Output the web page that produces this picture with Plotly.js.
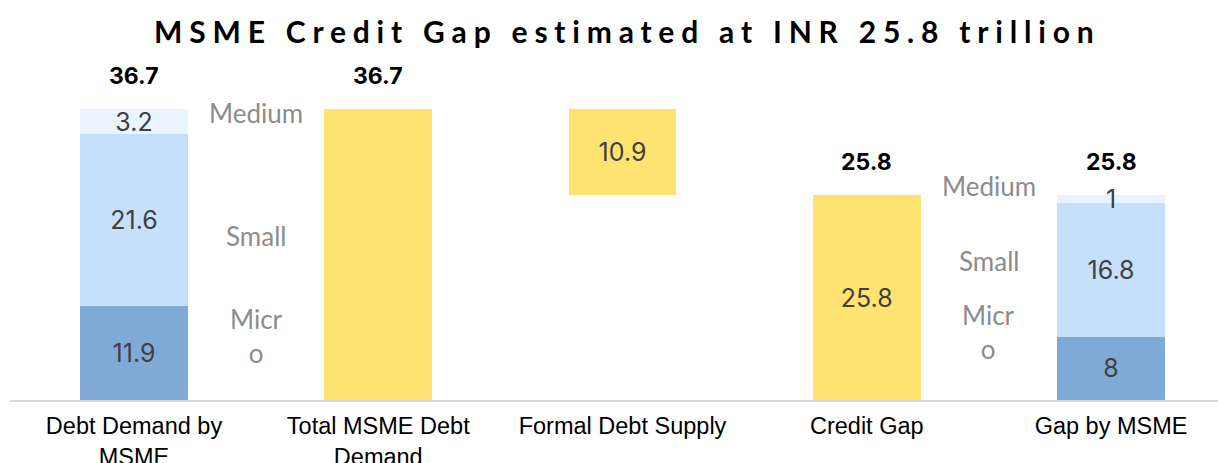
<!DOCTYPE html>
<html>
<head>
<meta charset="utf-8">
<script src="https://cdn.plot.ly/plotly-3.0.1.min.js"></script>
<style>
html,body{margin:0;padding:0;background:#fff;}
#chart{width:1218px;height:463px;}
.gtitle{letter-spacing:6.8px;}
</style>
</head>
<body>
<div id="chart"></div>
<script>
var categories = ['Debt Demand by<br>MSME', 'Total MSME Debt<br>Demand', 'Formal Debt Supply', 'Credit Gap', 'Gap by MSME'];
var microVals  = [11.9, null, null, null, 8];
var smallVals  = [21.6, null, null, null, 16.8];
var mediumVals = [3.2, null, null, null, 1];
var spacerVals = [null, null, 25.8, null, null];
var yellowVals = [null, 36.7, 10.9, 25.8, null];
var yellowText = ['', '', '10.9', '25.8', ''];
var totalVals  = [36.7, 36.7, null, 25.8, 25.8];
var segmentNames = ['Medium', 'Small', 'Micr<br>o'];
var segLabelX = [0.5, 3.5];
var segLabelY = [[36.2, 20.7, 8.1], [27.0, 17.5, 8.6]];

var valueFont = {family: 'Inter, "Open Sans", sans-serif', size: 25, color: '#404040'};
var barW = 0.442;

function segTrace(vals, color) {
  return {
    type: 'bar', x: categories, y: vals, width: barW,
    marker: {color: color, line: {width: 0}},
    text: vals.map(function(v){ return v === null ? '' : String(v); }),
    textposition: 'inside', insidetextanchor: 'middle', textangle: 0,
    constraintext: 'none', cliponaxis: false,
    insidetextfont: valueFont, hoverinfo: 'skip', showlegend: false
  };
}

var traces = [
  {type: 'bar', x: categories, y: spacerVals, width: barW,
   marker: {color: 'rgba(0,0,0,0)'}, hoverinfo: 'skip', showlegend: false},
  segTrace(microVals, '#80AAD6'),
  segTrace(smallVals, '#C6E0FC'),
  segTrace(mediumVals, '#EAF4FE'),
  {type: 'bar', x: categories, y: yellowVals, width: barW,
   marker: {color: '#FFE371', line: {width: 0}},
   text: yellowText, textposition: 'inside', insidetextanchor: 'middle', textangle: 0,
   constraintext: 'none', insidetextfont: valueFont, hoverinfo: 'skip', showlegend: false}
];

var annotations = [];
totalVals.forEach(function(v, i){
  if (v === null) return;
  annotations.push({x: categories[i], y: v, xref: 'x', yref: 'y', text: String(v),
    showarrow: false, yanchor: 'middle', yshift: 33,
    font: {family: 'Inter, "Open Sans", sans-serif', size: 23, color: '#000', weight: 'bold'}});
});
segLabelX.forEach(function(xv, g){
  segmentNames.forEach(function(name, k){
    annotations.push({x: xv, y: segLabelY[g][k], xref: 'x', yref: 'y', text: name,
      showarrow: false, yanchor: 'middle',
      font: {family: 'Lato, sans-serif', size: 26, color: '#8C8C8C'}});
  });
});

var layout = {
  width: 1218, height: 463,
  margin: {l: 10, r: 0, t: 60, b: 63, pad: 0},
  paper_bgcolor: '#fff', plot_bgcolor: '#fff',
  barmode: 'stack', bargap: 0,
  title: {text: 'MSME Credit Gap estimated at INR 25.8 trillion',
    font: {family: 'Lato, sans-serif', size: 30, color: '#000', weight: 'bold'},
    x: 0.515, xanchor: 'center', y: 0.929, yanchor: 'middle', yref: 'container'},
  xaxis: {type: 'category', range: [-0.5077, 4.438], showgrid: false, zeroline: false,
    showline: true, linecolor: '#D9D9D9', linewidth: 2, ticks: '', fixedrange: true,
    ticklabelstandoff: 4,
    tickfont: {family: '"Liberation Sans", Arial, sans-serif', size: 23.5, color: '#000'}},
  yaxis: {range: [0, 42.88], visible: false, showgrid: false, zeroline: false, fixedrange: true},
  annotations: annotations
};

Plotly.newPlot('chart', traces, layout, {displayModeBar: false, staticPlot: true});
</script>
</body>
</html>
